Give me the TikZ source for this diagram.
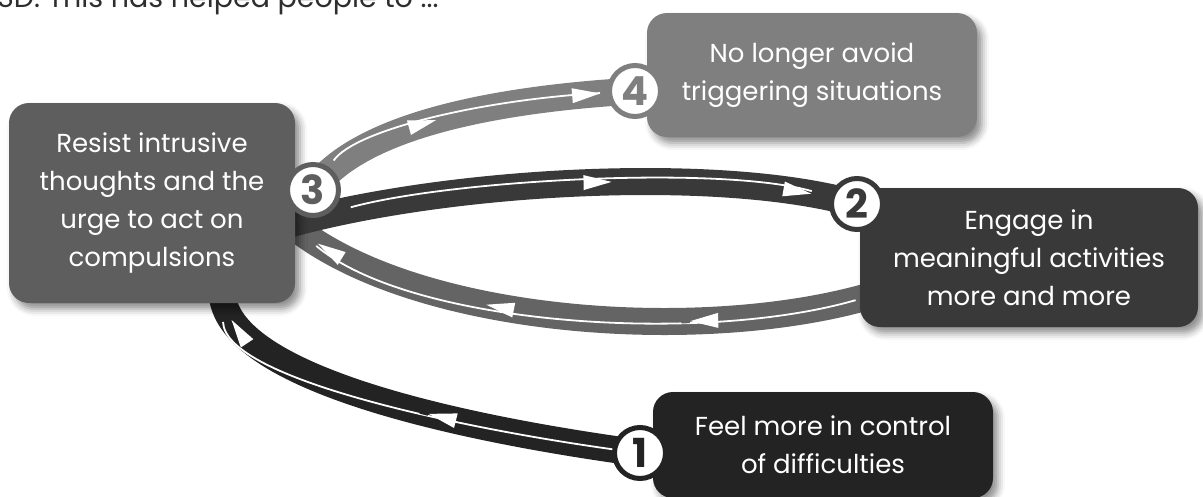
\documentclass[tikz,border=0pt]{standalone}
\usepackage{fontspec}
\setmainfont{Poppins}
\usetikzlibrary{decorations.markings,shadows.blur}
\definecolor{cA}{HTML}{232323}
\definecolor{cB}{HTML}{393939}
\definecolor{cC}{HTML}{5E5E5E}
\definecolor{cCband}{HTML}{646464}
\definecolor{cD}{HTML}{7F7F7F}
\definecolor{titlec}{HTML}{2E2E2E}
\colorlet{bandc}{cA}
\pgfdeclarelayer{bands}
\pgfsetlayers{bands,main}
\newcommand\arrowpiece{%
  \fill[white] (0pt,0pt) -- (-28pt,7.5pt) -- (-28pt,-7.5pt) -- cycle;
  \fill[bandc] (0.4pt,-2pt) rectangle (9pt,2pt);}
\tikzset{
  box/.style={rounded corners=20pt, align=center, text=white, inner sep=0pt,
    font=\fontsize{26}{38}\selectfont,
    blur shadow={shadow xshift=5pt, shadow yshift=-6pt, shadow blur radius=7pt, shadow opacity=45}},
  badge/.style={circle, fill=white, draw=#1, text=#1, line width=5pt,
    minimum size=51pt, inner sep=0pt, font=\bfseries\fontsize{40}{40}\selectfont},
  band/.style={draw=#1, line width=27pt, line cap=butt},
  whiteline/.style 2 args={postaction={draw=white, line width=1.8pt, shorten <=#1, shorten >=#2}},
  amark/.style={postaction={decorate, decoration={markings, mark=at position #1 with {\arrowpiece}}}},
}
\begin{document}
\begin{tikzpicture}[x=1pt,y=-1pt]
\useasboundingbox (0,0) rectangle (1203,496);
\clip (0,0) rectangle (1203,496);

% title (cut at the top)
\node[anchor=base west, text=titlec, inner sep=0pt, font=\fontsize{28.5}{32}\selectfont] (title) at (-3,7.5) {SD: This has helped people to ...};

% boxes
\node[box, fill=cC, minimum width=286pt, minimum height=200pt] (n3) at (152,203)
  {Resist intrusive\\thoughts and the\\urge to act on\\compulsions};
\node[box, fill=cD, minimum width=330pt, minimum height=124pt] (n4) at (812,75)
  {No longer avoid\\triggering situations};
\node[box, fill=cB, minimum width=338pt, minimum height=139pt] (n2) at (1029,257.5)
  {Engage in\\meaningful activities\\more and more};
\node[box, fill=cA, minimum width=340pt, minimum height=106pt] (n1) at (823,445)
  {Feel more in control\\of difficulties};

% badges
\node[badge=cC] (b3) at (313,190) {3};
\node[badge=cD] (b4) at (635,91) {4};
\node[badge=cB] (b2) at (857,204) {2};
\node[badge=cA] (b1) at (640,453) {1};

% band ends hidden under the boxes
\coordinate (a3) at (222,292);
\coordinate (bB) at (290,224);
\coordinate (cS) at (870,296);
\coordinate (cE) at (288,222);

\begin{pgfonlayer}{bands}
  % 3 -> 4
  \colorlet{bandc}{cD}
  \draw[band=cD, whiteline={36pt}{35pt}, amark=144pt, amark=-35pt]
    (b3.center) .. controls (355,130) and (480,100) .. (b4.center);
  % 2 -> 3 (lower)
  \colorlet{bandc}{cCband}
  \draw[band=cCband, whiteline={15pt}{37pt}, amark=182pt, amark=387pt, amark=-37pt]
    (cS) .. controls (700,345) and (410,325) .. (cE);
  % 3 -> 2 (upper)
  \colorlet{bandc}{cB}
  \draw[band=cB, whiteline={63pt}{47pt}, amark=325pt, amark=-47pt]
    (bB) .. controls (450,180) and (720,165) .. (b2.center);
  % 1 -> 3
  \colorlet{bandc}{cA}
  \draw[band=cA, whiteline={20pt}{30pt}, amark=215pt, amark=-30pt]
    (b1.center) .. controls (470,430) and (225,380) .. (a3);
\end{pgfonlayer}
\end{tikzpicture}
\end{document}
